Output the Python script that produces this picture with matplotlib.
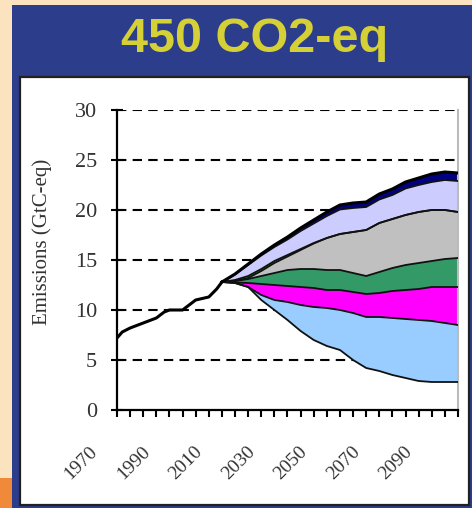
import matplotlib

matplotlib.use("Agg")

import matplotlib.pyplot as plt
import matplotlib.transforms as mtransforms
import numpy as np
from matplotlib.patches import Rectangle


# historical emissions (GtC-eq)
HIST_YEARS = [1970, 1972, 1975, 1980, 1985, 1988, 1990, 1995, 1998, 2000, 2005, 2008, 2010]
HIST_VALUES = [7.2, 7.8, 8.2, 8.7, 9.2, 9.8, 10.0, 10.0, 10.6, 11.0, 11.3, 12.1, 12.8]

# scenario years
YEARS = list(range(2010, 2101, 5))

# remaining emissions of the 450 ppm pathway (white area below)
REMAINING = [12.8, 12.7, 12.3, 11.0, 10.0, 9.0, 7.9, 7.0, 6.4, 6.0, 5.0, 4.2, 3.9, 3.5, 3.2, 2.9, 2.8, 2.8, 2.8]

# reduction wedges, from bottom to top
WEDGE_LIGHTBLUE = [0, 0, 0, 0.5, 1.0, 1.8, 2.6, 3.3, 3.8, 4.0, 4.7, 5.1, 5.4, 5.7, 5.9, 6.1, 6.1, 5.9, 5.7]
WEDGE_MAGENTA = [0, 0.05, 0.4, 1.1, 1.5, 1.6, 1.8, 1.9, 1.8, 2.0, 2.1, 2.3, 2.4, 2.7, 2.9, 3.1, 3.4, 3.6, 3.8]
WEDGE_SEAGREEN = [0, 0.15, 0.4, 0.8, 1.2, 1.6, 1.8, 1.9, 2.0, 2.0, 1.9, 1.8, 2.1, 2.3, 2.5, 2.6, 2.6, 2.8, 2.9]
WEDGE_GRAY = [0, 0, 0.1, 0.5, 1.0, 1.35, 1.9, 2.55, 3.2, 3.6, 4.1, 4.6, 4.9, 4.9, 5.0, 5.1, 5.1, 4.9, 4.6]
WEDGE_GREEN = [0, 0.1, 0.2, 0.2, 0.2, 0.15, 0.1, 0.05, 0, 0, 0, 0, 0, 0, 0, 0, 0, 0, 0]
WEDGE_LAVENDER = [0, 0.55, 1.1, 1.35, 1.4, 1.55, 1.8, 1.95, 2.2, 2.45, 2.4, 2.3, 2.35, 2.4, 2.65, 2.7, 2.8, 3.0, 3.1]
WEDGE_NAVY = [0, 0.05, 0.1, 0.15, 0.2, 0.25, 0.3, 0.35, 0.4, 0.45, 0.5, 0.5, 0.55, 0.6, 0.65, 0.7, 0.8, 0.8, 0.8]

WEDGE_COLORS = ["#99CCFF", "#FF00FF", "#339966", "#C0C0C0", "#00FF00", "#CCCCFF", "#000080"]

Y_TICKS = [0, 5, 10, 15, 20, 25, 30]
X_LABEL_YEARS = [1970, 1990, 2010, 2030, 2050, 2070, 2090]

W, H = 472, 508


def fx(px):
    return px / W


def fy(py):
    return 1 - py / H


def add_frame(fig):
    fig.patch.set_facecolor("#FCE3BF")
    fig.patches.append(Rectangle((0, 0), fx(12), 30 / H, transform=fig.transFigure,
                                 facecolor="#F08A3A", edgecolor="none", zorder=0))
    fig.patches.append(Rectangle((fx(12), 0), fx(460), (H - 5) / H, transform=fig.transFigure,
                                 facecolor="#2C3D8B", edgecolor="none", zorder=1))
    fig.patches.append(Rectangle((fx(20), fy(505)), fx(449), (505 - 77) / H, transform=fig.transFigure,
                                 facecolor="white", edgecolor="#202020", linewidth=1.6, zorder=2))
    fig.text(fx(255), fy(40), "450 CO2-eq", ha="center", va="center", fontsize=35,
             weight="bold", color="#D4D036", family="Liberation Sans", zorder=3)
    fig.text(fx(42), fy(242), "Emissions (GtC-eq)", ha="center", va="center", rotation=90,
             fontsize=15, family="Liberation Serif", color="#333333", zorder=3)


def main():
    fig = plt.figure(figsize=(W / 100, H / 100), dpi=100)
    add_frame(fig)

    ax = fig.add_axes([fx(117), fy(410), fx(458 - 117), 300 / H], zorder=5)
    ax.set_facecolor("none")

    years = np.array(YEARS)
    wedges = [WEDGE_LIGHTBLUE, WEDGE_MAGENTA, WEDGE_SEAGREEN, WEDGE_GRAY,
              WEDGE_GREEN, WEDGE_LAVENDER, WEDGE_NAVY]
    polys = ax.stackplot(years, REMAINING, *wedges, colors=["white"] + WEDGE_COLORS,
                         linewidth=0, zorder=2)
    polys[0].set_visible(False)

    levels = np.cumsum(np.vstack([REMAINING] + wedges), axis=0)
    for i, lev in enumerate(levels):
        if i == len(levels) - 1:
            ax.plot(years, lev, color="black", lw=2.2, zorder=3)
        else:
            ax.plot(years, lev, color="#111111", lw=1.3, zorder=3)

    ax.plot(HIST_YEARS, HIST_VALUES, color="black", lw=2.2, zorder=4)

    for yv in Y_TICKS[1:]:
        ax.axhline(yv, color="black", lw=1.5, ls=(0, (4.5, 3)), zorder=1)

    ax.set_xlim(1970, 2100)
    ax.set_ylim(0, 30)

    ax.set_yticks(Y_TICKS)
    ax.set_yticklabels([str(v) for v in Y_TICKS], family="Liberation Serif", fontsize=16, color="#333333")
    ax.tick_params(axis="y", direction="inout", length=9, width=1.5, pad=10)

    xt = list(range(1970, 2101, 5))
    ax.set_xticks(xt)
    ax.set_xticklabels([str(y) if y in X_LABEL_YEARS else "" for y in xt],
                       family="Liberation Serif", fontsize=14, color="#333333",
                       rotation=45, ha="right", rotation_mode="anchor")
    ax.tick_params(axis="x", direction="out", length=5, width=1.5, pad=22)
    offset = mtransforms.ScaledTranslation(-28 / 100, 4 / 100, fig.dpi_scale_trans)
    for lbl in ax.get_xticklabels():
        lbl.set_transform(lbl.get_transform() + offset)

    ax.spines["top"].set_visible(False)
    ax.spines["right"].set_color("#BBBBBB")
    ax.spines["right"].set_linewidth(1.5)
    ax.spines["left"].set_linewidth(1.6)
    ax.spines["bottom"].set_linewidth(1.6)

    fig.savefig("out.png", dpi=100, facecolor=fig.get_facecolor())
    plt.close(fig)


if __name__ == "__main__":
    main()
